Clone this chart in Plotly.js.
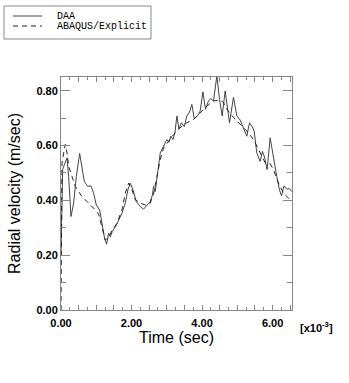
<!DOCTYPE html>
<html>
<head>
<meta charset="utf-8">
<script src="https://cdn.plot.ly/plotly-3.0.1.min.js"></script>
<style>html,body{margin:0;padding:0;background:#fff;}#chart{width:349px;height:383px;}</style>
</head>
<body>
<div id="chart"></div>
<script>
// Time in units of 1e-3 sec
var daaTime = [0.00,0.019,0.047,0.076,0.123,0.170,0.217,0.283,0.359,0.434,0.529,0.595,0.661,0.755,0.850,0.925,1.001,1.095,1.180,1.237,1.294,1.350,1.398,1.454,1.586,1.728,1.822,1.898,1.964,2.040,2.134,2.247,2.342,2.436,2.531,2.587,2.625,2.672,2.738,2.814,2.908,3.003,3.060,3.116,3.173,3.230,3.286,3.343,3.418,3.494,3.569,3.645,3.711,3.777,3.871,3.947,4.023,4.098,4.183,4.249,4.325,4.419,4.495,4.570,4.655,4.721,4.778,4.891,4.986,5.080,5.137,5.194,5.269,5.345,5.420,5.477,5.552,5.647,5.713,5.770,5.845,5.930,6.025,6.119,6.195,6.251,6.327,6.402,6.478,6.544];
var daaVel = [0.206,0.39,0.512,0.524,0.543,0.555,0.487,0.341,0.39,0.487,0.571,0.524,0.469,0.451,0.453,0.426,0.383,0.365,0.31,0.261,0.240,0.280,0.267,0.286,0.314,0.353,0.39,0.439,0.463,0.439,0.396,0.377,0.368,0.383,0.396,0.417,0.451,0.432,0.5,0.573,0.598,0.622,0.612,0.634,0.622,0.646,0.708,0.661,0.683,0.669,0.708,0.722,0.75,0.698,0.708,0.726,0.796,0.732,0.763,0.771,0.763,0.854,0.769,0.708,0.799,0.744,0.683,0.776,0.708,0.693,0.677,0.661,0.634,0.683,0.669,0.653,0.573,0.542,0.579,0.558,0.512,0.628,0.549,0.487,0.438,0.417,0.453,0.441,0.443,0.432];
var abqTime = [0.000,0.009,0.028,0.076,0.123,0.170,0.217,0.312,0.406,0.500,0.595,0.689,0.784,0.878,0.973,1.067,1.161,1.256,1.350,1.445,1.586,1.728,1.822,1.917,2.011,2.106,2.247,2.389,2.531,2.625,2.720,2.814,2.908,3.050,3.192,3.380,3.569,3.758,3.947,4.136,4.325,4.514,4.608,4.703,4.891,5.080,5.269,5.458,5.647,5.789,5.930,6.025,6.166,6.308,6.450,6.544];
var abqVel = [0.0,0.267,0.536,0.573,0.604,0.573,0.524,0.487,0.451,0.432,0.414,0.402,0.39,0.377,0.365,0.350,0.304,0.255,0.267,0.289,0.316,0.365,0.426,0.463,0.439,0.402,0.390,0.383,0.390,0.424,0.487,0.549,0.591,0.616,0.640,0.665,0.683,0.695,0.720,0.744,0.763,0.765,0.757,0.732,0.702,0.677,0.653,0.622,0.573,0.537,0.534,0.512,0.463,0.426,0.408,0.396];
var xTickVals = [0,0.5,1,1.5,2,2.5,3,3.5,4,4.5,5,5.5,6,6.5];
var xTickText = ['0.00',' ',' ',' ','2.00',' ',' ',' ','4.00',' ',' ',' ','6.00',' '];
var yTickVals = [0,0.2,0.4,0.6,0.8];
var yTickText = ['0.00','0.20','0.40','0.60','0.80'];
var seriesNames = ['DAA','ABAQUS/Explicit'];

var lineStyles = [
  {color: '#444', width: 1},
  {color: '#222', width: 1, dash: '5px,4px'}
];

var traces = [
  {x: daaTime, y: daaVel, name: seriesNames[0], type: 'scatter', mode: 'lines', line: lineStyles[0]},
  {x: abqTime, y: abqVel, name: seriesNames[1], type: 'scatter', mode: 'lines', line: lineStyles[1]}
];

// Hand-built legend box (paper coordinates) to match the compact original
var L = 61, T = 77, W = 231, H = 233;
function px2x(p) { return (p - L) / W; }
function px2y(p) { return (T + H - p) / H; }
var legendRows = [16, 26];
var shapes = [{
  type: 'rect', xref: 'paper', yref: 'paper',
  x0: px2x(4), x1: px2x(151), y0: px2y(39), y1: px2y(6),
  line: {color: '#888', width: 1}, fillcolor: '#fff', layer: 'above'
}];
var annotations = [];
for (var i = 0; i < seriesNames.length; i++) {
  shapes.push({
    type: 'line', xref: 'paper', yref: 'paper',
    x0: px2x(13), x1: px2x(42), y0: px2y(legendRows[i]), y1: px2y(legendRows[i]),
    line: lineStyles[i], layer: 'above'
  });
  annotations.push({
    xref: 'paper', yref: 'paper', x: px2x(55), y: px2y(legendRows[i]),
    xanchor: 'left', yanchor: 'middle', showarrow: false, text: seriesNames[i],
    font: {family: 'Liberation Mono, Courier New, monospace', size: 10, color: '#000'}
  });
}
annotations.push({
  xref: 'paper', yref: 'paper', x: 1.025, y: 0, xanchor: 'left', yanchor: 'top', yshift: -8,
  text: '[x10<sup>-3</sup>]', showarrow: false,
  font: {family: 'Liberation Sans, Arial, sans-serif', size: 11, color: '#000', weight: 'bold'}
});

var tickFont = {family: 'Liberation Sans, Arial, sans-serif', size: 11, color: '#000', weight: 'bold'};
var layout = {
  width: 349, height: 383,
  margin: {l: L, r: 349 - L - W, t: T, b: 383 - T - H, pad: 0},
  paper_bgcolor: '#fff', plot_bgcolor: '#fff',
  showlegend: false,
  xaxis: {
    range: [0, 6.55], showgrid: false, zeroline: false,
    showline: true, linecolor: '#888', linewidth: 1, mirror: 'ticks',
    ticks: 'inside', ticklen: 5, tickcolor: '#888', tickwidth: 1,
    tickvals: xTickVals, ticktext: xTickText, tickfont: tickFont, ticklabelstandoff: 3,
    minor: {dtick: 0.25, ticks: 'inside', ticklen: 3, tickcolor: '#888', showgrid: false},
    title: {text: 'Time (sec)', font: {family: 'Liberation Sans, Arial, sans-serif', size: 16, color: '#000'}, standoff: 3}
  },
  yaxis: {
    range: [0, 0.85], showgrid: false, zeroline: false,
    showline: true, linecolor: '#888', linewidth: 1, mirror: 'ticks',
    ticks: 'inside', ticklen: 9, tickcolor: '#888', tickwidth: 1,
    tickvals: yTickVals, ticktext: yTickText, tickfont: tickFont,
    minor: {dtick: 0.1, ticks: 'inside', ticklen: 5, tickcolor: '#888', showgrid: false},
    title: {text: 'Radial velocity (m/sec)', font: {family: 'Liberation Sans, Arial, sans-serif', size: 16, color: '#000'}, standoff: 11}
  },
  shapes: shapes,
  annotations: annotations
};
Plotly.newPlot('chart', traces, layout, {displayModeBar: false, staticPlot: true});
</script>
</body>
</html>
